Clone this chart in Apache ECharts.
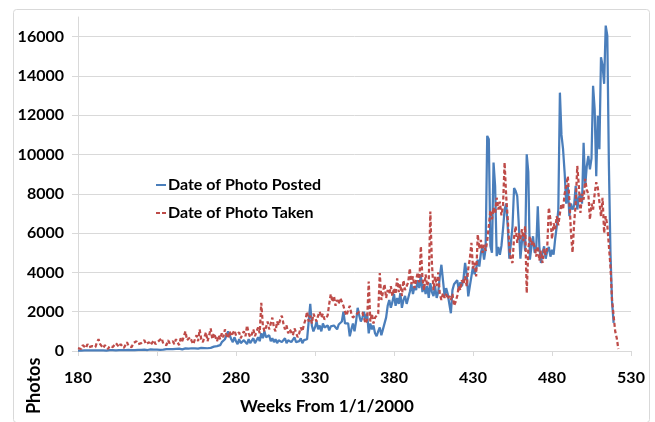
<!DOCTYPE html>
<html><head><meta charset="utf-8">
<script src="https://cdn.jsdelivr.net/npm/echarts@6/dist/echarts.min.js"></script>
<style>html,body{margin:0;padding:0;background:#fff}#c{width:655px;height:422px}</style>
</head><body><div id="c"></div>
<script>
const firstWeek = 180;
const seriesNames = ['Date of Photo Posted', 'Date of Photo Taken'];
const xAxisTitle = 'Weeks From 1/1/2000';
const yAxisTitle = 'Photos';
// Weekly values starting at week 180
const postedValues = [
 20,30,20,40,30,20,30,40,30,20,
 30,40,30,20,30,40,30,30,20,30,
 40,30,50,40,30,40,50,30,40,50,
 40,50,60,40,50,60,50,40,60,50,
 60,50,70,60,50,70,80,60,70,60,
 70,80,60,90,70,80,100,70,90,80,
 100,80,110,90,120,100,80,110,130,100,
 120,100,140,110,130,150,120,140,160,130,
 150,180,140,200,160,190,220,170,250,200,
 300,450,350,600,500,1000,800,600,450,700,
 500,350,600,400,300,550,450,350,600,400,
 500,650,400,550,700,500,900,650,1000,700,
 600,800,500,650,450,600,400,550,650,450,
 500,650,400,550,600,450,500,700,450,550,
 500,650,400,550,450,600,700,2400,1300,1000,
 1200,1500,1100,1300,1000,1400,1200,1100,1300,1050,
 1250,1150,1300,1200,1100,1350,1250,1500,2000,1400,
 1500,1400,750,1100,1400,1000,1500,2200,1800,1500,
 1700,2000,1600,1900,900,1400,1100,1300,900,750,
 1000,1200,800,1100,1200,1700,2300,2600,2200,2500,
 2900,2300,2700,2400,2950,2200,2600,2800,2400,2700,
 3000,3400,2900,3300,3100,3600,3200,3870,3000,3400,
 2900,3300,2700,3450,3000,2800,3300,2700,3000,3800,
 4390,3600,2800,3200,2900,2400,1920,3100,3400,3300,
 3600,3100,3500,3300,3700,4480,3900,2780,3300,3800,
 4300,3900,4200,4650,4300,5000,5300,4650,5200,10950,
 10780,5350,5000,9590,8400,4830,5300,4900,5350,6200,
 7200,7500,6300,4700,5500,6350,8300,8140,7880,6400,
 4700,5600,6000,5100,10010,9100,4650,5300,5840,5000,
 5200,7370,5300,4480,5000,5330,4700,5100,5300,4800,
 5150,4900,5700,6350,7200,13150,11000,10270,9070,7500,
 8400,6860,7500,7200,7400,8400,7200,7800,8000,7500,
 10600,8400,9400,9930,9250,9800,13500,12300,8900,11970,
 10270,14950,14530,13600,16560,16050,9500,5000,2500,1430
];
const takenValues = [
 150,250,100,300,200,150,350,200,100,250,
 300,200,450,600,350,250,150,300,200,100,
 250,350,200,150,400,300,200,350,250,150,
 300,450,250,350,200,400,300,500,350,250,
 400,300,550,350,250,450,300,400,550,350,
 300,500,400,650,350,450,300,550,400,350,
 500,350,600,450,300,650,500,400,1000,550,
 450,700,500,350,600,800,500,1100,600,450,
 700,950,500,800,1150,600,900,700,500,800,
 600,900,700,1100,800,650,1000,750,900,1050,
 800,700,950,650,850,1000,750,1300,900,700,
 850,1100,750,1000,1200,900,2450,1300,1000,1200,
 1500,1100,1400,1700,1200,1000,1500,1300,1600,1800,
 1400,1100,1300,900,1100,1000,800,1150,950,700,
 900,1200,1000,1350,1600,2000,1500,1800,1400,1900,
 1700,1500,1800,2000,1700,1900,1600,1500,1800,2400,
 2900,2500,2800,2300,2600,2400,2700,2780,2300,2000,
 1800,2100,2300,1900,1700,1600,1850,1900,2000,2050,
 1950,2000,1400,1600,3540,1500,1900,1400,1700,1600,
 1900,3970,2600,3000,3400,2700,3100,2900,3300,2800,
 3200,2900,3700,3000,3400,2800,3600,3100,3300,3500,
 4200,3400,3800,3200,3600,4000,3500,5330,3700,3100,
 3900,3300,3600,7100,4450,3100,3800,3300,4000,2900,
 2600,2950,2700,2900,2650,2800,2600,2900,2300,2500,
 2800,3300,3100,3600,3400,3800,3300,4200,4700,5500,
 4200,4500,3800,5930,5200,5650,5000,5400,5100,5600,
 6350,7160,6700,7300,7000,7800,7200,7600,6900,7400,
 9600,7880,6700,5300,4650,4480,5800,6350,5500,6000,
 5700,6200,5600,6350,2950,5200,5840,5400,5600,5300,
 4800,5330,4600,5100,4480,5200,4900,5300,7300,6700,
 5700,6500,6200,6860,6400,7000,7500,7200,8000,8400,
 8890,7700,6000,5010,6500,7500,9420,8400,7030,8000,
 7700,8760,8200,8000,6690,7500,7200,8000,8590,8300,
 8400,6860,7800,6000,6860,6400,6500,4300,2600,1800,
 1000,650,100
];
const xMin = 180, xMax = 530, xStep = 50;
const yMin = 0, yMax = 17000, yStep = 2000;

const FONT = 'Lato';
const toPairs = arr => arr.map((v, i) => [firstWeek + i, v]);
const chart = echarts.init(document.getElementById('c'), null, {renderer: 'canvas'});
chart.setOption({
  animation: false,
  backgroundColor: '#fff',
  grid: {left: 78, right: 24, top: 17, bottom: 71, containLabel: false},
  xAxis: {
    type: 'value', min: xMin, max: xMax, interval: xStep,
    axisLine: {show: true, lineStyle: {color: '#d9d9d9', width: 1}},
    axisTick: {show: true, length: 5, lineStyle: {color: '#d9d9d9'}},
    splitLine: {show: false},
    axisLabel: {margin: 19, color: '#000', fontFamily: FONT, fontWeight: 'bold', fontSize: 16, formatter: v => String(v)}
  },
  yAxis: {
    type: 'value', min: yMin, max: yMax, interval: yStep,
    axisLine: {show: true, lineStyle: {color: '#d9d9d9', width: 1}},
    axisTick: {show: true, length: 6, lineStyle: {color: '#d9d9d9'}},
    splitLine: {show: true, showMinLine: false, showMaxLine: false, lineStyle: {color: '#d9d9d9', width: 1}},
    axisLabel: {margin: 14, color: '#000', fontFamily: FONT, fontWeight: 'bold', fontSize: 16, showMaxLabel: false, formatter: v => String(v)}
  },
  legend: {
    orient: 'vertical', left: 151, top: 172, itemWidth: 10, itemHeight: 3, itemGap: 12,
    textStyle: {fontFamily: FONT, fontWeight: 'bold', fontSize: 16, color: '#000', padding: [0,0,0,-3]},
    data: [
      {name: seriesNames[0], icon: 'path://M0,0H10V2H0Z', itemStyle: {color: '#4a7ebb'}},
      {name: seriesNames[1], icon: 'path://M0,0H4V2H0Z M6,0H10V2H6Z', itemStyle: {color: '#be4b48'}}
    ]
  },
  series: [
    {name: seriesNames[0], type: 'line', showSymbol: false, symbol: 'none',
     data: toPairs(postedValues), lineStyle: {color: '#4a7ebb', width: 2.25}, itemStyle: {color: '#4a7ebb'}},
    {name: seriesNames[1], type: 'line', showSymbol: false, symbol: 'none',
     data: toPairs(takenValues), lineStyle: {color: '#be4b48', width: 2.25, type: [4, 2.5]}, itemStyle: {color: '#be4b48'}}
  ],
  graphic: [
    {type: 'rect', left: 11, top: 7, shape: {width: 636, height: 413, r: 3}, style: {fill: 'none', stroke: '#d9d9d9', lineWidth: 1}, silent: true},
    {type: 'text', top: 398, left: 240, style: {text: xAxisTitle, fontFamily: FONT, fontWeight: 'bold', fontSize: 17, fill: '#000'}},
    {type: 'text', rotation: Math.PI / 2, x: 25, y: 414, style: {text: yAxisTitle, fontFamily: FONT, fontWeight: 'bold', fontSize: 18, fill: '#000'}}
  ]
});
</script></body></html>
